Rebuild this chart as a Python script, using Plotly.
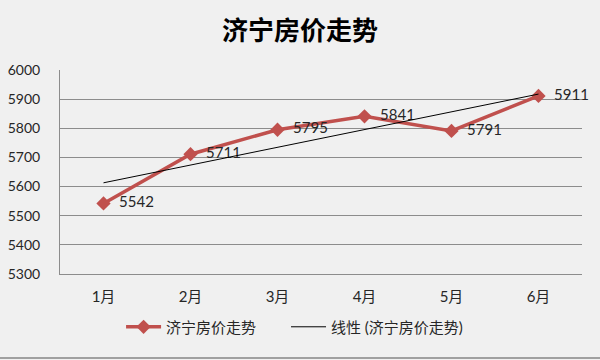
import numpy as np
import plotly.graph_objects as go

months = ["1月", "2月", "3月", "4月", "5月", "6月"]
prices = [5542, 5711, 5795, 5841, 5791, 5911]
series_name = "济宁房价走势"
trend_name = "线性 (济宁房价走势)"
y_ticks = [5300, 5400, 5500, 5600, 5700, 5800, 5900, 6000]

xi = np.arange(len(months))
slope, intercept = np.polyfit(xi, prices, 1)
trend = slope * xi + intercept

FONT = "Lato, Noto Sans CJK SC, sans-serif"

fig = go.Figure()
fig.add_trace(go.Scatter(
    x=months, y=prices, name=series_name,
    mode="lines+markers+text",
    line=dict(color="#c0504d", width=3.5),
    marker=dict(symbol="diamond", size=11, color="#c0504d"),
    text=["\u00a0\u00a0" + str(v) for v in prices], textposition="middle right",
    textfont=dict(size=15, color="#262626", family=FONT),
    cliponaxis=False, legend="legend",
))
fig.add_trace(go.Scatter(
    x=months, y=trend, name=trend_name, mode="lines",
    line=dict(color="#000000", width=1), legend="legend2",
))

leg_common = dict(orientation="h", xanchor="left", y=-0.26, yanchor="middle",
                  bgcolor="rgba(0,0,0,0)", font=dict(size=15, color="#262626", family=FONT),
                  itemwidth=35)

fig.update_layout(
    width=600, height=360,
    margin=dict(l=60, r=18, t=70, b=86, autoexpand=False),
    paper_bgcolor="#f0f0f0", plot_bgcolor="#f0f0f0",
    title=dict(text="<b>济宁房价走势</b>", x=0.5, xanchor="center", y=0.915, yanchor="middle",
               font=dict(size=26, color="#000000", family="Noto Sans CJK SC, serif")),
    font=dict(family=FONT, size=15, color="#262626"),
    showlegend=True,
    legend=dict(x=0.117, **leg_common),
    legend2=dict(x=0.433, **leg_common),
    xaxis=dict(type="category", range=[-0.5, 5.5], showgrid=False, showline=True,
               linecolor="#8c8c8c", linewidth=1, automargin=False,
               zeroline=False, ticks="outside", ticklen=9, tickcolor="rgba(0,0,0,0)",
               tickfont=dict(size=15, color="#262626")),
    yaxis=dict(range=[5300, 6000], tickvals=y_ticks, showgrid=True, gridcolor="#8c8c8c",
               gridwidth=1, showline=True, linecolor="#8c8c8c", linewidth=1,
               zeroline=False, ticks="", ticklabelstandoff=16, automargin=False,
               tickfont=dict(size=14, color="#262626")),
)
fig.add_shape(type="line", xref="paper", yref="paper", x0=-0.2, x1=1.1, y0=-0.412, y1=-0.412,
              line=dict(color="#a0a0a0", width=2))
fig.write_html("out.html")
